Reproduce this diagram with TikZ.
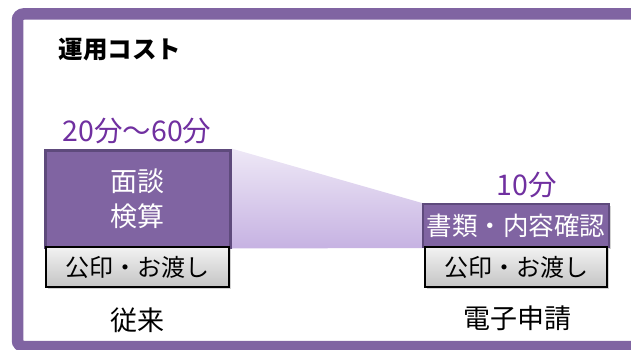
\documentclass[tikz,border=0pt]{standalone}
\usepackage{fontspec}
\setmainfont{Noto Sans CJK JP}
\usetikzlibrary{shadows,backgrounds}
\definecolor{boxpurple}{HTML}{8064A2}
\definecolor{boxedge}{HTML}{5E4A7C}
\definecolor{txtpurple}{HTML}{7030A0}
\definecolor{funtop}{HTML}{EEE8F6}
\definecolor{funbot}{HTML}{C6B2E2}
\definecolor{grtop}{HTML}{F2F2F2}
\definecolor{grbot}{HTML}{C4C4C4}
\tikzset{
  pbox/.style={fill=boxpurple, draw=boxedge, text=white, inner sep=0pt, align=center,
    drop shadow={shadow xshift=2pt, shadow yshift=-2pt, opacity=0.35}},
  gbox/.style={top color=grtop, bottom color=grbot, draw=black, line width=1.3pt, inner sep=0pt,
    drop shadow={shadow xshift=2pt, shadow yshift=-2pt, opacity=0.35}},
  lbl/.style={font=\fontsize{27}{32}\selectfont},
}
\begin{document}
\begin{tikzpicture}[x=1pt,y=-1pt]
\useasboundingbox (0,0) rectangle (631,350);
% frame
\draw[line width=11.5pt, boxpurple, rounded corners=6pt] (17.5,14) rectangle (660,346.5);
\node[anchor=west, font=\fontsize{24.5}{28}\selectfont\bfseries] (title) at (55,50) {運用コスト};
% boxes
\node[pbox, line width=3pt, minimum width=185pt, minimum height=97pt, font=\fontsize{27}{35}\selectfont] (lp) at (137.5,198.5) {面談\\検算};
\node[pbox, line width=2pt, minimum width=186pt, minimum height=43pt, font=\fontsize{25.5}{28}\selectfont] (rp) at (516,225.5) {書類・内容確認};
% funnel
\begin{pgfonlayer}{background}
\shade[top color=funtop, bottom color=funbot] (lp.north east) -- (rp.north west) -- (rp.south west) -- (lp.south east) -- cycle;
\end{pgfonlayer}
\node[gbox, minimum width=183pt, minimum height=40pt, font=\fontsize{24}{28}\selectfont] (lg) at (137.5,267) {公印・お渡し};
\node[gbox, minimum width=182pt, minimum height=40pt, font=\fontsize{24}{28}\selectfont] (rg) at (516,267) {公印・お渡し};
% labels
\node[text=txtpurple, font=\fontsize{28.5}{32}\selectfont] (lt) at (137,131) {20分～60分};
\node[text=txtpurple, font=\fontsize{28.5}{32}\selectfont] (rt) at (527,185) {10分};
\node[lbl] (ll) at (137,320) {従来};
\node[lbl] (rl) at (517,318) {電子申請};
\end{tikzpicture}
\end{document}
